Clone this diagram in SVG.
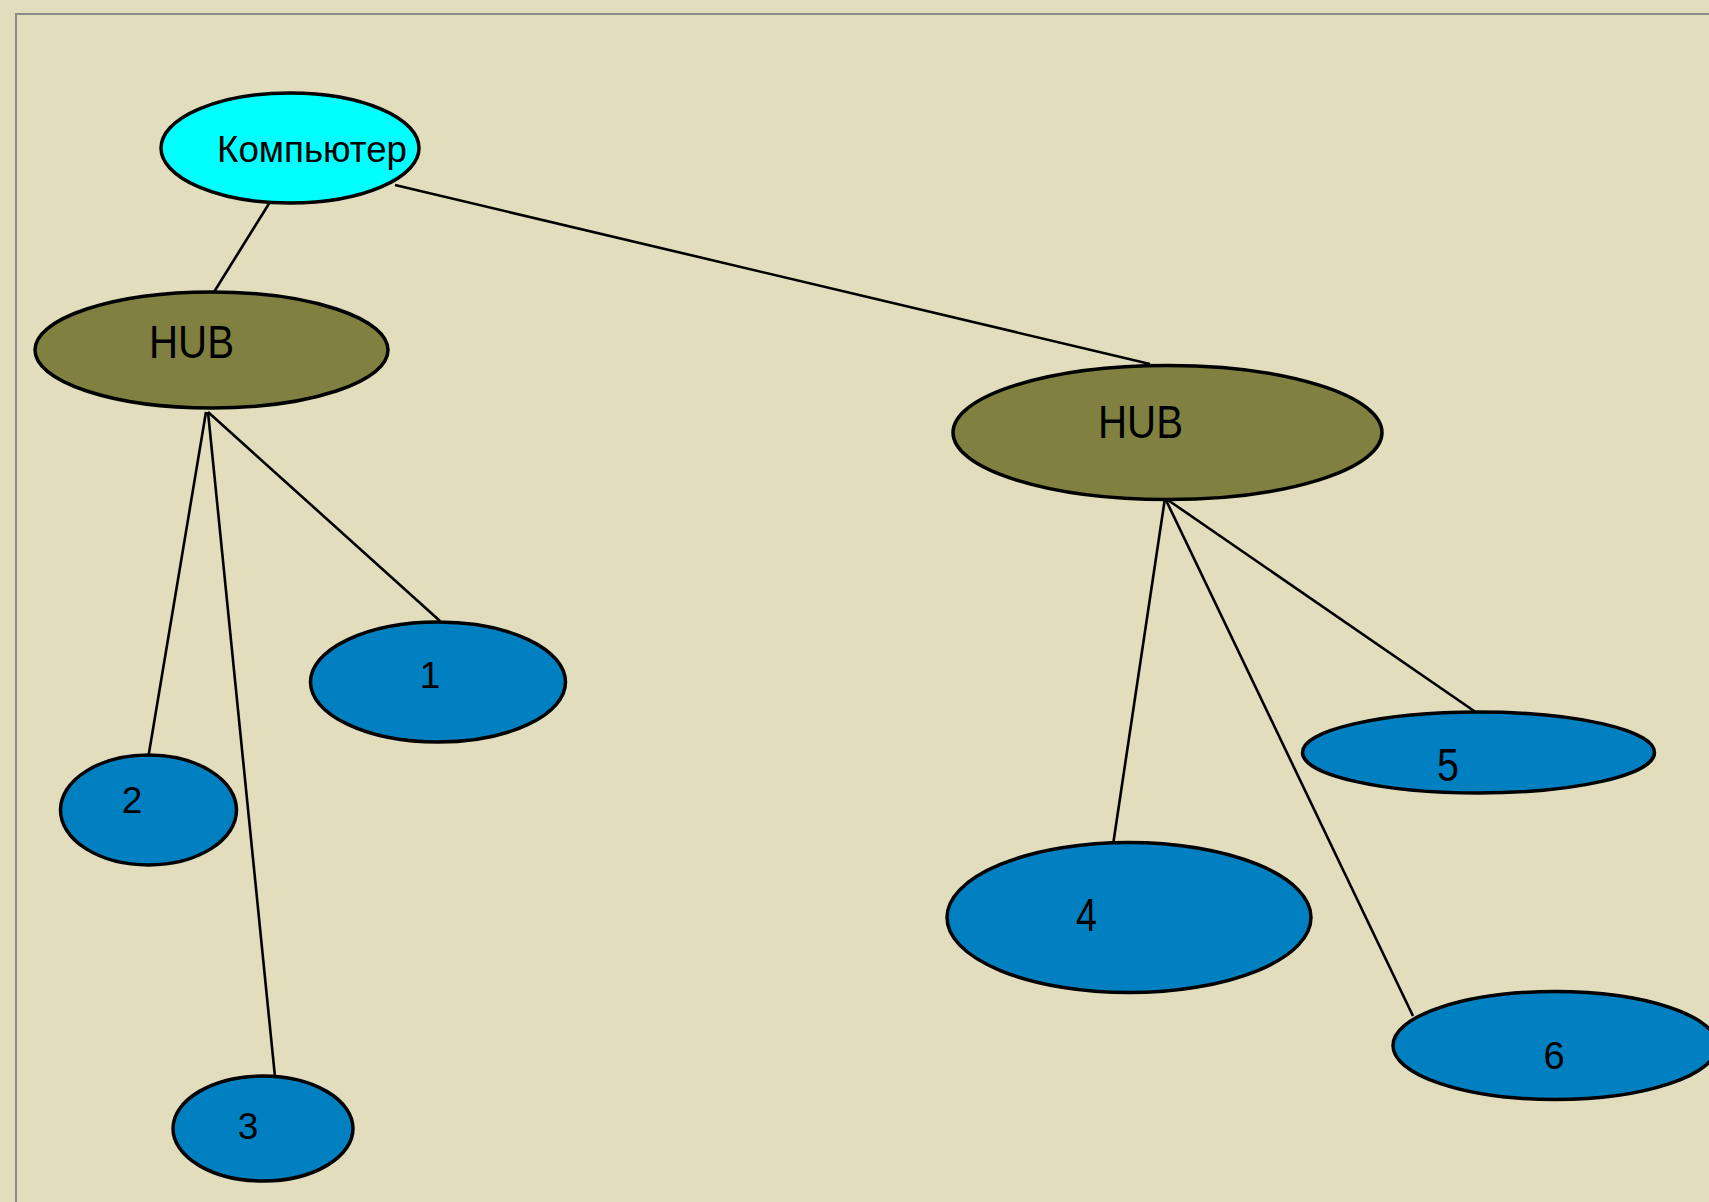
<svg xmlns="http://www.w3.org/2000/svg" width="1709" height="1202" viewBox="0 0 1709 1202">
  <style>
    .node { stroke: #000; stroke-width: 3.5; }
    .pc { fill: #00ffff; }
    .hub { fill: #808040; }
    .host { fill: #0080c0; }
    .lbl { font-family: "Liberation Sans", Arial, sans-serif; fill: #000; }
    .conn line { stroke: #000; stroke-width: 2.6; }
  </style>
  <rect x="0" y="0" width="1709" height="1202" fill="#e2ddbd"/>
  <path d="M16 1202 V14 H1709" fill="none" stroke="#8a8a88" stroke-width="2"/>

  <g id="connectors" class="conn">
    <line x1="270" y1="202" x2="214" y2="292"/>
    <line x1="395" y1="185" x2="1150" y2="364"/>
    <line x1="206" y1="412" x2="148.5" y2="756"/>
    <line x1="208" y1="412" x2="275" y2="1077"/>
    <line x1="208" y1="412" x2="440" y2="621" stroke-width="2"/>
    <line x1="1165" y1="498" x2="1113" y2="845"/>
    <line x1="1165" y1="498" x2="1413" y2="1016" stroke-width="2"/>
    <line x1="1165" y1="498" x2="1477" y2="713" stroke-width="2"/>
  </g>

  <g id="computer">
    <ellipse class="node pc" cx="290" cy="148" rx="129" ry="55"/>
    <text class="lbl" x="217" y="162" font-size="36" textLength="190" lengthAdjust="spacingAndGlyphs">Компьютер</text>
  </g>
  <g id="hub1">
    <ellipse class="node hub" cx="211.5" cy="350" rx="176.5" ry="58"/>
    <text class="lbl" x="149" y="358" font-size="46" textLength="85" lengthAdjust="spacingAndGlyphs">HUB</text>
  </g>
  <g id="hub2">
    <ellipse class="node hub" cx="1167.5" cy="432.5" rx="214.5" ry="67"/>
    <text class="lbl" x="1098" y="438" font-size="46" textLength="85" lengthAdjust="spacingAndGlyphs">HUB</text>
  </g>
  <g id="node1">
    <ellipse class="node host" cx="438" cy="682" rx="127.5" ry="60"/>
    <text class="lbl" x="430" y="688" font-size="37" text-anchor="middle">1</text>
  </g>
  <g id="node2">
    <ellipse class="node host" cx="148.5" cy="810" rx="88" ry="55"/>
    <text class="lbl" x="132" y="813" font-size="37" text-anchor="middle">2</text>
  </g>
  <g id="node3">
    <ellipse class="node host" cx="263" cy="1128.5" rx="90" ry="52.5"/>
    <text class="lbl" x="248" y="1139" font-size="37" text-anchor="middle">3</text>
  </g>
  <g id="node4">
    <ellipse class="node host" cx="1129" cy="917.5" rx="182" ry="75"/>
    <text class="lbl" x="1076" y="931" font-size="46" textLength="21" lengthAdjust="spacingAndGlyphs">4</text>
  </g>
  <g id="node5">
    <ellipse class="node host" cx="1478.5" cy="752.5" rx="176" ry="40.5"/>
    <text class="lbl" x="1437" y="781" font-size="46" textLength="22" lengthAdjust="spacingAndGlyphs">5</text>
  </g>
  <g id="node6">
    <ellipse class="node host" cx="1555" cy="1045.5" rx="162" ry="54"/>
    <text class="lbl" x="1554" y="1069" font-size="38" text-anchor="middle">6</text>
  </g>
</svg>
